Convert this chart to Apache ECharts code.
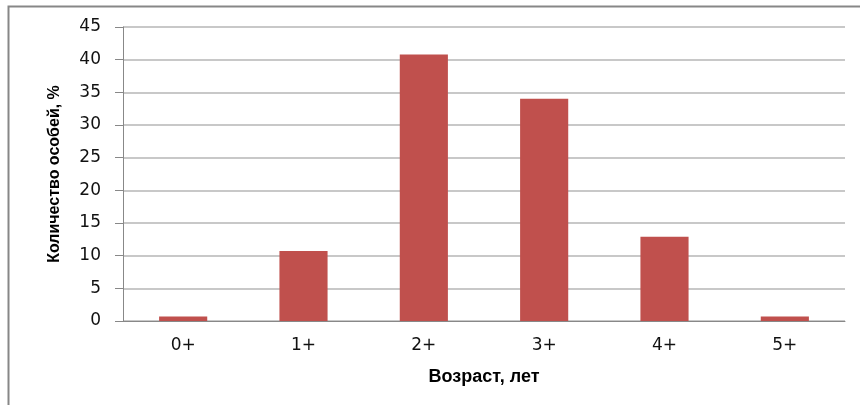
<!DOCTYPE html>
<html>
<head>
<meta charset="utf-8">
<script src="https://cdn.jsdelivr.net/npm/echarts@6/dist/echarts.min.js"></script>
<style>
    html, body { margin: 0; padding: 0; background: #fff; }
    #chart { width: 860px; height: 405px; }
</style>
</head>
<body>
<div id="chart"></div>
<script>
    // возрастные группы и доля особей, %
    var ageGroups = ['0+', '1+', '2+', '3+', '4+', '5+'];
    var shareValues = [0.7, 10.7, 40.8, 34.0, 12.9, 0.7];
    var yTicks = { min: 0, max: 45, step: 5 };

    var chart = echarts.init(document.getElementById('chart'));
    var options = {
        animation: false,
        graphic: [
            {
                type: 'rect',
                shape: { x: 8.5, y: 6.5, width: 900, height: 450 },
                style: { fill: 'none', stroke: '#878787', lineWidth: 2 }
            }
        ],
        grid: { left: 123, right: 15, top: 27, bottom: 84 },
        xAxis: {
            type: 'category',
            data: ageGroups,
            name: 'Возраст, лет',
            nameLocation: 'middle',
            nameGap: 47,
            nameTextStyle: { fontFamily: 'Liberation Sans', fontWeight: 'bold', fontSize: 18, color: '#000' },
            axisLine: { lineStyle: { color: '#888', width: 1 } },
            axisTick: { length: 6, lineStyle: { color: '#888' } },
            axisLabel: { fontFamily: 'DejaVu Sans', fontSize: 17, color: '#111', margin: 16 }
        },
        yAxis: {
            type: 'value',
            min: yTicks.min,
            max: yTicks.max,
            interval: yTicks.step,
            name: 'Количество особей, %',
            nameLocation: 'middle',
            nameGap: 60,
            nameTextStyle: { fontFamily: 'Liberation Sans', fontWeight: 'bold', fontSize: 16, color: '#000' },
            axisLine: { show: true, lineStyle: { color: '#888', width: 1 } },
            axisTick: { show: true, length: 8, lineStyle: { color: '#888' } },
            axisLabel: { fontFamily: 'DejaVu Sans', fontSize: 17, color: '#111', margin: 22 },
            splitLine: { lineStyle: { color: '#c8c8c8', width: 2 } }
        },
        series: [
            {
                type: 'bar',
                data: shareValues,
                barWidth: '40%',
                itemStyle: { color: '#C0504D' }
            }
        ]
    };
    chart.setOption(options);
</script>
</body>
</html>
